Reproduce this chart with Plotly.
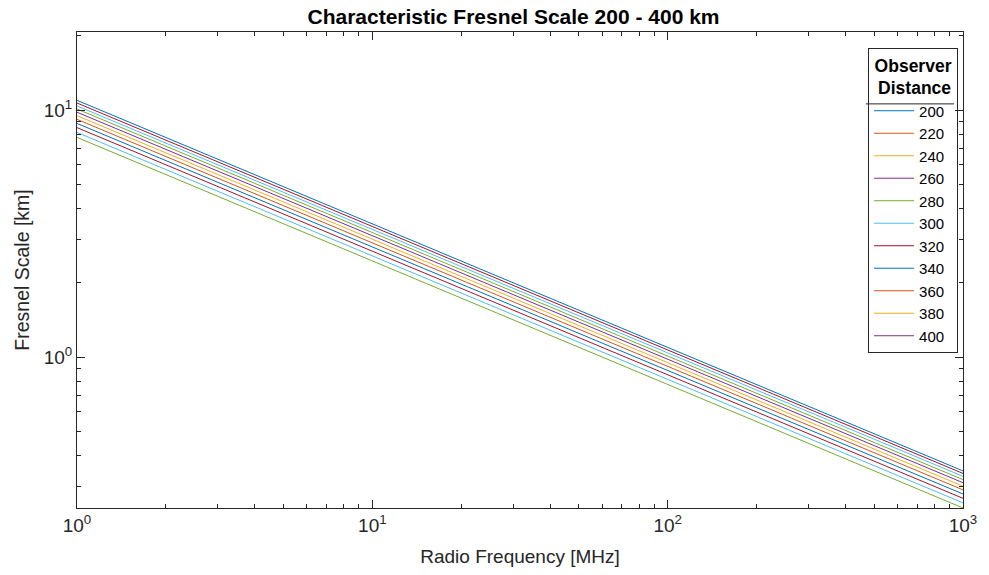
import plotly.graph_objects as go

# Observer distances (km)
distances = [200, 220, 240, 260, 280, 300, 320, 340, 360, 380, 400]
# Frequency endpoints (MHz)
freq = [1, 1000]
# Fresnel scale (km) read at 1 MHz and 1000 MHz for each distance
fresnel_1mhz = [7.75, 8.12, 8.49, 8.83, 9.17, 9.49, 9.80, 10.10, 10.39, 10.68, 10.95]
fresnel_1000mhz = [0.245, 0.257, 0.268, 0.279, 0.290, 0.300, 0.310, 0.319, 0.329, 0.338, 0.346]

# colours of the drawn lines (bottom to top) and of the legend entries
line_colors = ["#77AC30", "#4DBEEE", "#A2142F", "#0072BD", "#D95319", "#EDB120",
               "#7E2F8E", "#77AC30", "#4DBEEE", "#A2142F", "#0072BD"]
legend_colors = ["#0072BD", "#D95319", "#EDB120", "#7E2F8E", "#77AC30", "#4DBEEE",
                 "#A2142F", "#0072BD", "#D95319", "#EDB120", "#7E2F8E"]

xticks = [1, 10, 100, 1000]
xticktext = ["10<sup>0</sup>", "10<sup>1</sup>", "10<sup>2</sup>", "10<sup>3</sup>"]
xminor = [2, 3, 4, 5, 6, 7, 8, 9, 20, 30, 40, 50, 60, 70, 80, 90,
          200, 300, 400, 500, 600, 700, 800, 900]
yticks = [1, 10]
yticktext = ["10<sup>0</sup>", "10<sup>1</sup>"]
yminor = [0.3, 0.4, 0.5, 0.6, 0.7, 0.8, 0.9, 2, 3, 4, 5, 6, 7, 8, 9, 20]

FONT = "Liberation Sans, Arial, Helvetica, sans-serif"
AX = "#262626"

fig = go.Figure()
for d, a, b, c in zip(distances, fresnel_1mhz, fresnel_1000mhz, line_colors):
    fig.add_trace(go.Scatter(x=freq, y=[a, b], mode="lines",
                             line=dict(color=c, width=1), showlegend=False,
                             hoverinfo="skip"))
for d, c in zip(distances, legend_colors):
    fig.add_trace(go.Scatter(x=[None], y=[None], mode="lines", name=str(d),
                             line=dict(color=c, width=1), legendgroup=str(d)))

axis_common = dict(type="log", showgrid=False, zeroline=False, showline=True,
                   linecolor=AX, linewidth=1, mirror="ticks", ticks="inside",
                   ticklen=8, tickwidth=1, tickcolor=AX,
                   tickfont=dict(size=19, color=AX, family=FONT))

fig.update_xaxes(**axis_common, range=[0, 3], tickmode="array", tickvals=xticks,
                 ticktext=xticktext,
                 minor=dict(tickmode="array", tickvals=xminor, ticks="inside",
                            ticklen=4, tickwidth=1, tickcolor=AX, showgrid=False),
                 title=dict(text="Radio Frequency [MHz]", font=dict(size=19, color=AX, family=FONT),
                            standoff=14))
fig.update_yaxes(**axis_common, range=[-0.611, 1.316], tickmode="array", tickvals=yticks,
                 ticktext=yticktext,
                 minor=dict(tickmode="array", tickvals=yminor, ticks="inside",
                            ticklen=4, tickwidth=1, tickcolor=AX, showgrid=False),
                 title=dict(text="Fresnel Scale [km]", font=dict(size=19.5, color=AX, family=FONT),
                            standoff=8))

fig.update_layout(
    width=989, height=575,
    margin=dict(l=77, r=23, t=32, b=67),
    paper_bgcolor="white", plot_bgcolor="white",
    font=dict(family=FONT, color=AX),
    title=dict(text="<b>Characteristic Fresnel Scale 200 - 400 km</b>",
               x=(515 - 77) / 889, xref="paper", xanchor="center", y=1 - 17 / 575, yanchor="middle",
               font=dict(size=21, color="black", family=FONT)),
    legend=dict(x=0.9944, xanchor="right", y=0.9664, yanchor="top",
                bgcolor="rgba(0,0,0,0)", bordercolor=AX, borderwidth=1,
                font=dict(size=15, color="black", family=FONT),
                title=dict(text="<b>&#8201;Observer&#8201;<br>&#8201;&#8201;Distance</b>",
                           side="top center",
                           font=dict(size=17.5, color="black", family=FONT)),
                traceorder="grouped", tracegroupgap=0, itemwidth=40),
    shapes=[dict(type="line", xref="paper", yref="paper",
                 x0=(868.5 - 77) / 889, x1=(957 - 77) / 889, y0=0.849, y1=0.849,
                 line=dict(color=AX, width=1))],
)

fig.write_html("out.html")
